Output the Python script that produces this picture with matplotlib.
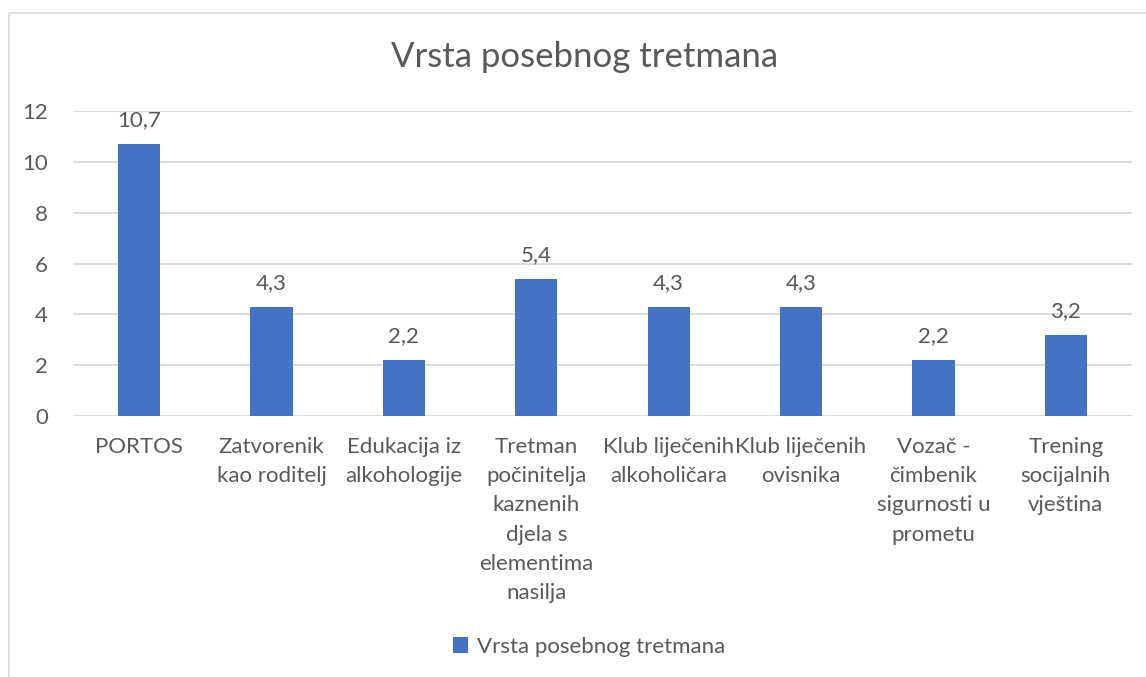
import matplotlib
matplotlib.use("Agg")
import matplotlib.pyplot as plt
from matplotlib.patches import Rectangle

plt.rcParams['font.family'] = ['Lato', 'DejaVu Sans']

title = "Vrsta posebnog tretmana"
series_name = "Vrsta posebnog tretmana"
categories = [
    "PORTOS",
    "Zatvorenik\nkao roditelj",
    "Edukacija iz\nalkohologije",
    "Tretman\npočinitelja\nkaznenih\ndjela s\nelementima\nnasilja",
    "Klub liječenih\nalkoholičara",
    "Klub liječenih\novisnika",
    "Vozač -\nčimbenik\nsigurnosti u\nprometu",
    "Trening\nsocijalnih\nvještina",
]
values = [10.7, 4.3, 2.2, 5.4, 4.3, 4.3, 2.2, 3.2]
yticks = [0, 2, 4, 6, 8, 10, 12]

W, H = 1146, 677
fig = plt.figure(figsize=(W / 100, H / 100), dpi=100)
fig.patch.set_facecolor('white')

# chart border
fig.patches.append(Rectangle((9 / W, -0.1), 1.2, 1 - 13 / H + 0.1, transform=fig.transFigure,
                             fill=False, edgecolor='#d9d9d9', linewidth=1.2))

ax = fig.add_axes([73 / W, 1 - 416 / H, (1132 - 73) / W, (416 - 111) / H])
text_color = '#595959'
x = list(range(len(categories)))
bars = ax.bar(x, values, width=0.32, color='#4472C4', zorder=3, label=series_name)
ax.set_xlim(-0.5, len(categories) - 0.5)
ax.set_ylim(0, 12)
ax.set_yticks(yticks)
ax.set_yticklabels([str(t) for t in yticks], fontsize=16, color=text_color)
ax.set_xticks(x)
ax.set_xticklabels(categories, fontsize=16, color=text_color, linespacing=1.58, va='top')
ax.tick_params(axis='y', length=0, pad=18)
ax.tick_params(axis='x', length=0, pad=15)
for s in ax.spines.values():
    s.set_visible(False)
ax.grid(axis='y', color='#d9d9d9', linewidth=1.3, zorder=0)
ax.set_axisbelow(True)

for xi, v in zip(x, values):
    ax.annotate(f"{v:.1f}".replace('.', ','), (xi, v), xytext=(0, 17), textcoords='offset points',
                ha='center', va='center', fontsize=16, color=text_color)

fig.text(585 / W, 1 - 57 / H, title, ha='center', va='center', fontsize=25, color=text_color)

leg = fig.legend(handles=[bars], labels=[series_name], loc='center', bbox_to_anchor=(589 / W, 1 - 647 / H),
                 frameon=False, fontsize=16, handlelength=0.7, handleheight=0.7, handletextpad=0.4)
for t in leg.get_texts():
    t.set_color(text_color)

fig.savefig('out.png', dpi=100, facecolor='white')
